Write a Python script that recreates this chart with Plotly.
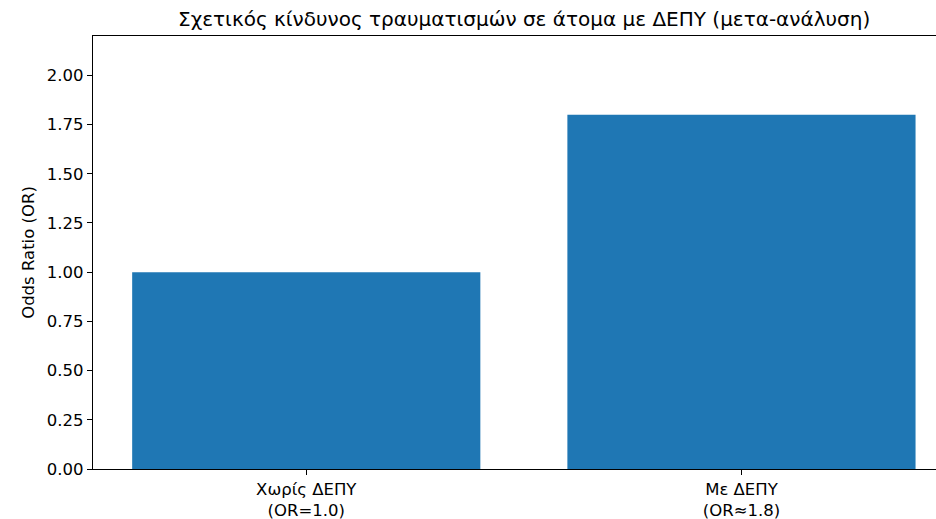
import plotly.graph_objects as go

categories = ["Χωρίς ΔΕΠΥ<br>(OR=1.0)", "Με ΔΕΠΥ<br>(OR≈1.8)"]
odds_ratios = [1.0, 1.8]
y_ticks = [0.0, 0.25, 0.5, 0.75, 1.0, 1.25, 1.5, 1.75, 2.0]

title = "Σχετικός κίνδυνος τραυματισμών σε άτομα με ΔΕΠΥ (μετα-ανάλυση)"

fig = go.Figure(go.Bar(x=[0, 1], y=odds_ratios, width=0.8,
                       marker=dict(color="#1f77b4", line=dict(width=0))))

fig.update_xaxes(range=[-0.49, 1.447], tickmode="array", tickvals=[0, 1], ticktext=categories,
                 ticks="outside", ticklen=5, tickcolor="black", showline=True, linecolor="black",
                 linewidth=1.2, mirror=True, showgrid=False, zeroline=False,
                 tickfont=dict(size=16.5, color="black"))
fig.update_yaxes(range=[0, 2.2], tickmode="array", tickvals=y_ticks,
                 ticktext=[f"{v:.2f}" for v in y_ticks],
                 ticks="outside", ticklen=5, tickcolor="black", showline=True, linecolor="black",
                 linewidth=1.2, showgrid=False, zeroline=False,
                 tickfont=dict(size=16.5, color="black"),
                 title=dict(text="Odds Ratio (OR)", font=dict(size=16.5, color="black"), standoff=8))

fig.update_layout(width=936, height=519, margin=dict(l=93, r=0, t=36, b=50),
                  plot_bgcolor="white", paper_bgcolor="white",
                  font=dict(family="DejaVu Sans", color="black"),
                  title=dict(text=title, x=0.56, xanchor="center", y=0.963, yanchor="middle",
                             font=dict(size=20, color="black")),
                  showlegend=False)

fig.write_html("out.html", config={"displayModeBar": False},
               post_script="document.body.style.margin='0';")
